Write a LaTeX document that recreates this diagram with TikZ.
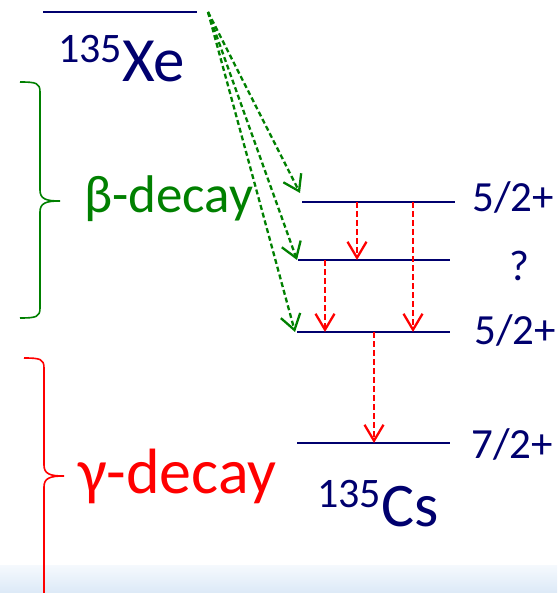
\documentclass[tikz,border=0pt]{standalone}
\usepackage{fontspec}
\setmainfont{Carlito}
\usetikzlibrary{arrows.meta}
\definecolor{lvlblue}{RGB}{0,0,110}
\definecolor{betagreen}{RGB}{0,128,0}
\definecolor{gammared}{RGB}{255,0,0}
\definecolor{bandtop}{RGB}{245,249,253}
\definecolor{bandbot}{RGB}{220,233,247}
\begin{document}
\begin{tikzpicture}[x=1pt,y=-1pt,
  level/.style={draw=lvlblue, line width=2pt},
  betaarrow/.style={draw=betagreen, line width=2.3pt, dash pattern=on 5pt off 3pt, -{Straight Barb[length=15pt,width=20pt]}},
  gammaarrow/.style={draw=gammared, line width=2.3pt, dash pattern=on 6pt off 3pt, -{Straight Barb[length=16pt,width=19pt]}},
  spin/.style={anchor=base west, inner sep=0pt, text=lvlblue, font=\fontsize{43}{43}\selectfont},
  brace/.style={line width=1.6pt}]
  \useasboundingbox (0,0) rectangle (557,593);
  % slide background band
  \shade[top color=bandtop, bottom color=bandbot] (0,565) rectangle (557,593);
  % levels
  \draw[level] (43,12) coordinate (xew) -- (197,12) coordinate (xee);
  \draw[level] (302,202) coordinate (l1w) -- (455,202) coordinate (l1e);
  \draw[level] (298,260) coordinate (l2w) -- (450,260) coordinate (l2e);
  \draw[level] (297,332) coordinate (l3w) -- (450,332) coordinate (l3e);
  \draw[level] (297,443) coordinate (l4w) -- (450,443) coordinate (l4e);
  % nuclei
  \node[anchor=base west, inner sep=0pt, text=lvlblue] (xe) at (58,82)
    {\fontsize{42}{42}\selectfont\raisebox{19pt}{135}\fontsize{63}{63}\selectfont Xe};
  \node[anchor=base west, inner sep=0pt, text=lvlblue] (cs) at (317,526)
    {\fontsize{42}{42}\selectfont\raisebox{19pt}{135}\fontsize{62}{62}\selectfont Cs};
  % spins
  \node[spin] (s1) at (472,212) {5/2+};
  \node[spin] (s2) at (509,280) {?};
  \node[spin] (s3) at (474,344) {5/2+};
  \node[spin] (s4) at (471,458) {7/2+};
  % beta feeding
  \coordinate (bsrc) at (208,12);
  \draw[betaarrow] (bsrc) -- ([xshift=-2pt,yshift=9pt]l1w);
  \draw[betaarrow] (bsrc) -- ([xshift=-1pt]l2w);
  \draw[betaarrow] (bsrc) -- ([xshift=-2pt]l3w);
  % gamma transitions
  \draw[gammaarrow] (357,0 |- l1w) -- (357,0 |- l2w);
  \draw[gammaarrow] (413,0 |- l1w) -- (413,0 |- l3w);
  \draw[gammaarrow] (325,0 |- l2w) -- (325,0 |- l3w);
  \draw[gammaarrow] (374,0 |- l3w) -- (374,0 |- l4w);
  % decay brackets
  \draw[brace, betagreen] (20,82) .. controls (36,82) and (40,83) .. (40,92) -- (40,190)
    .. controls (40,199) and (46,201) .. (60,201) .. controls (46,201) and (40,203) .. (40,212)
    -- (40,308) .. controls (40,317) and (36,318) .. (20,318);
  \node[anchor=base west, inner sep=0pt, text=betagreen, font=\fontsize{53}{53}\selectfont] (beta) at (84,213) {β-decay};
  \draw[brace, gammared] (24,358) .. controls (40,358) and (44,359) .. (44,368) -- (44,465)
    .. controls (44,474) and (50,476) .. (64,476) .. controls (50,476) and (44,478) .. (44,487)
    -- (44,593);
  \node[anchor=base west, inner sep=0pt, text=gammared, font=\fontsize{64}{64}\selectfont] (gamma) at (78,493) {γ-decay};
\end{tikzpicture}
\end{document}
